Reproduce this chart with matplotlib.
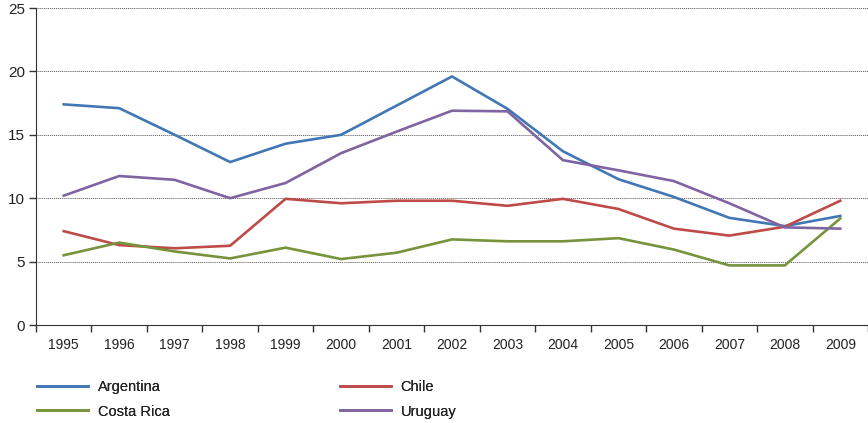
import matplotlib
matplotlib.use("Agg")
import matplotlib.pyplot as plt
from matplotlib import font_manager

years = ["1995", "1996", "1997", "1998", "1999", "2000", "2001", "2002",
         "2003", "2004", "2005", "2006", "2007", "2008", "2009"]

argentina = [17.4, 17.1, 15.0, 12.85, 14.3, 15.0, 17.3, 19.6,
             17.05, 13.7, 11.5, 10.1, 8.45, 7.8, 8.6]
chile = [7.4, 6.3, 6.05, 6.25, 9.95, 9.6, 9.8, 9.8,
         9.4, 9.95, 9.15, 7.6, 7.05, 7.75, 9.8]
costa_rica = [5.5, 6.5, 5.8, 5.25, 6.1, 5.2, 5.7, 6.75,
              6.6, 6.6, 6.85, 5.95, 4.7, 4.7, 8.4]
uruguay = [10.2, 11.75, 11.45, 10.0, 11.2, 13.55, 15.25, 16.9,
           16.85, 13.0, 12.2, 11.35, 9.6, 7.7, 7.6]

names = ["Argentina", "Chile", "Costa Rica", "Uruguay"]
series = [argentina, chile, costa_rica, uruguay]
colors = ["#4177b4", "#be4b48", "#77933c", "#8064a2"]

fam = "Liberation Sans Narrow"
try:
    font_manager.findfont(fam, fallback_to_default=False)
    plt.rcParams["font.family"] = [fam, "DejaVu Sans"]
except Exception:
    plt.rcParams["font.family"] = ["Liberation Sans", "DejaVu Sans"]

fig = plt.figure(figsize=(8.68, 4.23), dpi=100)
ax = fig.add_axes([36 / 868, 1 - 325 / 423, 832 / 868, 317 / 423])

x = list(range(len(years)))
lines = {}
for name, vals, c in zip(names, series, colors):
    (ln,) = ax.plot(x, vals, color=c, lw=1.9, solid_joinstyle="miter")
    lines[name] = ln

ax.set_ylim(0, 25)
ax.set_yticks([0, 5, 10, 15, 20, 25])
ax.set_xlim(-0.5, len(years) - 0.5)
ax.set_xticks([i - 0.5 for i in range(len(years) + 1)], minor=False)
ax.set_xticklabels([])
ax.set_xticks(x, minor=True)
ax.set_xticklabels(years, minor=True)
ax.tick_params(axis="x", which="major", length=5, width=1, color="#333333", direction="out")
ax.tick_params(axis="x", which="minor", length=0, pad=9, labelsize=10, labelcolor="#222222")
ax.tick_params(axis="y", length=5, width=1, color="#333333", labelsize=11, pad=3,
               labelcolor="#222222")

ax.yaxis.grid(True, color="#555555", linestyle=(0, (1, 1)), linewidth=0.7)
ax.set_axisbelow(True)
for s in ["top", "right"]:
    ax.spines[s].set_visible(False)
ax.spines["left"].set_color("#333333")
ax.spines["bottom"].set_color("#333333")

leg_kw = dict(frameon=False, loc="upper left", borderpad=0, borderaxespad=0,
              handlelength=3.5, handletextpad=0.65, labelspacing=0.72,
              fontsize=10.5, labelcolor="#222222")
for col, x0 in [(["Argentina", "Costa Rica"], 37), (["Chile", "Uruguay"], 340)]:
    leg = fig.legend([lines[n] for n in col], col,
                     bbox_to_anchor=(x0 / 868, 1 - 380 / 423), **leg_kw)
    fig.add_artist(leg)

fig.savefig("out.png", dpi=100)
